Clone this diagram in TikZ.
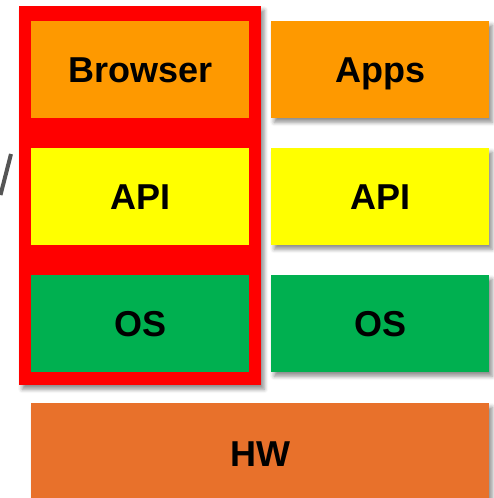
\documentclass[tikz,border=0pt]{standalone}
\usepackage{fontspec}
\setmainfont{Liberation Sans}
\usetikzlibrary{shadows.blur}
\definecolor{borange}{HTML}{FE9900}
\definecolor{byellow}{HTML}{FFFF00}
\definecolor{bgreen}{HTML}{00B050}
\definecolor{bred}{HTML}{FF0000}
\definecolor{hworange}{HTML}{E8712B}
\definecolor{slashgray}{HTML}{555555}
\tikzset{
  x=1pt, y=-1pt,
  shd/.style={blur shadow={shadow xshift=3pt, shadow yshift=-4pt, shadow blur radius=4pt, shadow opacity=45}},
  layer/.style={rectangle, inner sep=0pt, minimum width=218pt, minimum height=97pt,
    text height=26pt, text depth=0pt,
    font=\fontsize{36}{40}\selectfont\bfseries, text=black, anchor=north west},
}
\begin{document}
\begin{tikzpicture}
\useasboundingbox (0,0) rectangle (494,498);
% red frame
\node[shd, fill=bred, rectangle, inner sep=0pt, minimum width=242pt, minimum height=379pt, anchor=north west] (frame) at (19,6) {};
% left stack
\node[layer, fill=borange] (browser) at (31,21) {Browser};
\node[layer, fill=byellow] (apiL) at (31,148) {API};
\node[layer, fill=bgreen] (osL) at (31,275) {OS};
% right stack
\node[layer, shd, fill=borange] (apps) at (271,21) {Apps};
\node[layer, shd, fill=byellow] (apiR) at (271,148) {API};
\node[layer, shd, fill=bgreen] (osR) at (271,275) {OS};
% hardware
\node[layer, shd, fill=hworange, minimum width=458pt, minimum height=100pt] (hw) at (31,403) {HW};
% partial slash at left edge
\draw[slashgray, line width=4pt] (0.5,195) -- (11,154);
\end{tikzpicture}
\end{document}
